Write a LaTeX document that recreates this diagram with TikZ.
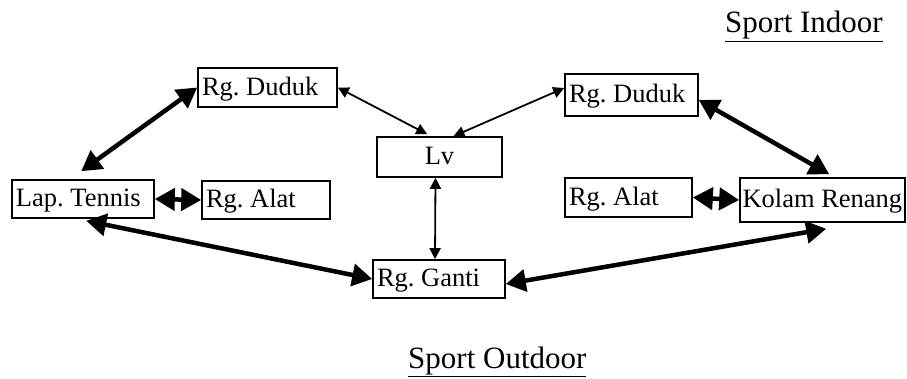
\documentclass[tikz,border=0pt]{standalone}
\usepackage{fontspec}
\setmainfont{Liberation Serif}
\usetikzlibrary{arrows.meta,calc}
\frenchspacing
\newcommand\lefttext[2]{\makebox[#1pt][l]{#2}}
\begin{document}
\begin{tikzpicture}[x=1pt,y=-1pt,
  box/.style={draw, line width=1.6pt, minimum height=#1pt,
    inner xsep=4pt, inner ysep=0pt, text height=19pt, text depth=3pt,
    font=\fontsize{26.5}{30}\selectfont},
  title/.style={inner sep=0pt, font=\fontsize{31}{36}\selectfont},
  tarr/.style={line width=4.5pt, {Triangle[length=20pt,width=22pt]}-{Triangle[length=20pt,width=22pt]}},
  narr/.style={line width=1.8pt, {Triangle[length=11pt,width=11pt]}-{Triangle[length=11pt,width=11pt]}}]
\useasboundingbox (0,0) rectangle (907,379);
% boxes
\node[box=39] (dl) at (267.5,87.5) {\lefttext{131}{Rg. Duduk}};
\node[box=40] (lv) at (439.5,157) {\makebox[117pt][c]{Lv}};
\node[box=42] (dr) at (631.5,95) {\lefttext{125}{Rg. Duduk}};
\node[box=38] (lt) at (83,199) {\lefttext{134}{Lap. Tennis}};
\node[box=38] (al) at (266,200) {\lefttext{120}{Rg. Alat}};
\node[box=39] (ar) at (628.5,197.5) {\lefttext{119}{Rg. Alat}};
\node[box=44, inner xsep=2.5pt] (kr) at (822.5,200) {\lefttext{160}{Kolam Renang}};
\node[box=38] (rg) at (439,279) {\lefttext{124}{Rg. Ganti}};
% titles
\node[title, anchor=base west] (si) at (725,33) {\underline{Sport Indoor}};
\node[title, anchor=base west] (so) at (408,368) {\underline{Sport Outdoor}};
% thick connectors
\draw[tarr] ($(lt.north west)+(70,-8)$) -- (dl.west);
\draw[tarr] (lt.east) -- (al.west);
\draw[tarr] ($(lt.south west)+(75,2)$) -- (rg.west);
\draw[tarr] ($(dr.east)+(0,5)$) -- ($(kr.north west)+(90,-3)$);
\draw[tarr] (ar.east) -- (kr.west);
\draw[tarr] ($(kr.south west)+(87,6)$) -- ($(rg.east)+(0,5)$);
% thin connectors
\draw[narr] (dl.east) -- ($(lv.north west)+(51,-2)$);
\draw[narr] ($(dr.west)+(0,-7)$) -- ($(lv.north)+(14,0)$);
\draw[narr] ($(lv.south)+(-4,0)$) -- ($(rg.north)+(-4,0)$);
\end{tikzpicture}
\end{document}
